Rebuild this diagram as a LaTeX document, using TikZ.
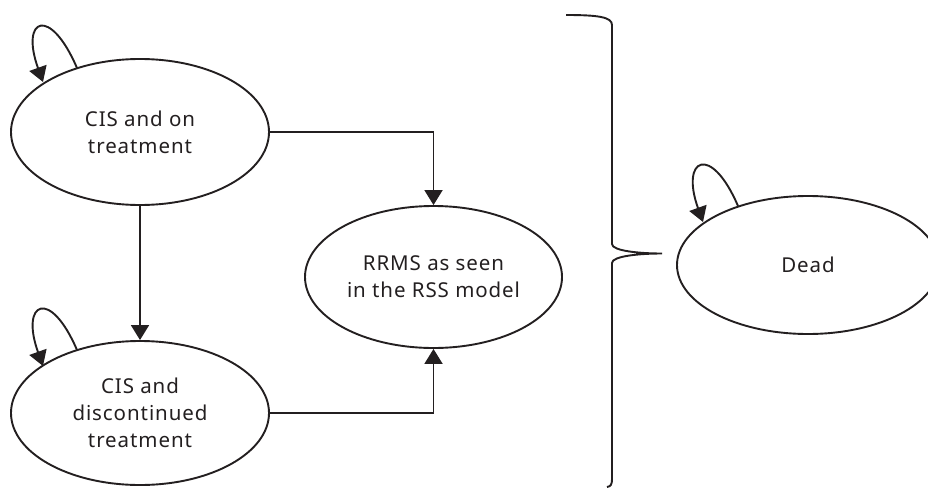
\documentclass[tikz,border=0pt]{standalone}
\usepackage{fontspec}
\setmainfont{Noto Sans}[LetterSpace=4.5]
\usetikzlibrary{shapes.geometric,arrows.meta}
\definecolor{ink}{HTML}{231F20}
\tikzset{
  state/.style={ellipse, draw=ink, line width=1.9pt, inner sep=0pt,
    minimum width=258pt, minimum height=146pt, align=center,
    text=ink, font=\fontsize{20.5pt}{27pt}\selectfont},
  arr/.style={draw=ink, line width=1.9pt,
    -{Triangle[width=18pt,length=15pt]}},
  loop/.style={arr},
  brace/.style={draw=ink, line width=1.9pt}
}
\begin{document}
\begin{tikzpicture}[x=1pt,y=-1pt]
\useasboundingbox (0,0) rectangle (928,487);

% states
\node[state] (cison)  at (140,132) {CIS and on\\treatment};
\node[state, minimum height=144pt] (cisdis) at (140,413) {CIS and\\discontinued\\treatment};
\node[state, minimum width=257pt, minimum height=142pt] (rrms) at (433.5,277) {RRMS as seen\\in the RSS model};
\node[state, minimum width=262pt, minimum height=138pt] (dead) at (808,265) {Dead};

% transitions
\draw[arr] (cison.east) -| (rrms.north);
\draw[arr] (cison.south) -- (cisdis.north);
\draw[arr] (cisdis.east) -| (rrms.south);

% self loops
\draw[loop] ([shift={(-63,-64)}]cison.center) .. controls +(-27,-63) and +(-23,-64) .. ([shift={(-97,-50)}]cison.center);
\draw[loop] ([shift={(-63,-63)}]cisdis.center) .. controls +(-27,-63) and +(-23,-64) .. ([shift={(-97,-47)}]cisdis.center);
\draw[loop] ([shift={(-70,-59)}]dead.center) .. controls +(-27,-63) and +(-23,-64) .. ([shift={(-105,-43)}]dead.center);

% brace grouping the CIS and RRMS states, pointing to Dead
\coordinate (btop) at (566,15);
\coordinate (btip) at (662,253.5);
\coordinate (bbot) at (607,487);
\draw[brace] (btop) .. controls (598,15) and (612,17) .. (612,25)
  -- (612,244) .. controls (612,251) and (640,253.5) .. (btip)
  .. controls (640,253.5) and (612,256) .. (612,263)
  -- (612,479) .. controls (612,484) and (611,486.5) .. (bbot);
\end{tikzpicture}
\end{document}
